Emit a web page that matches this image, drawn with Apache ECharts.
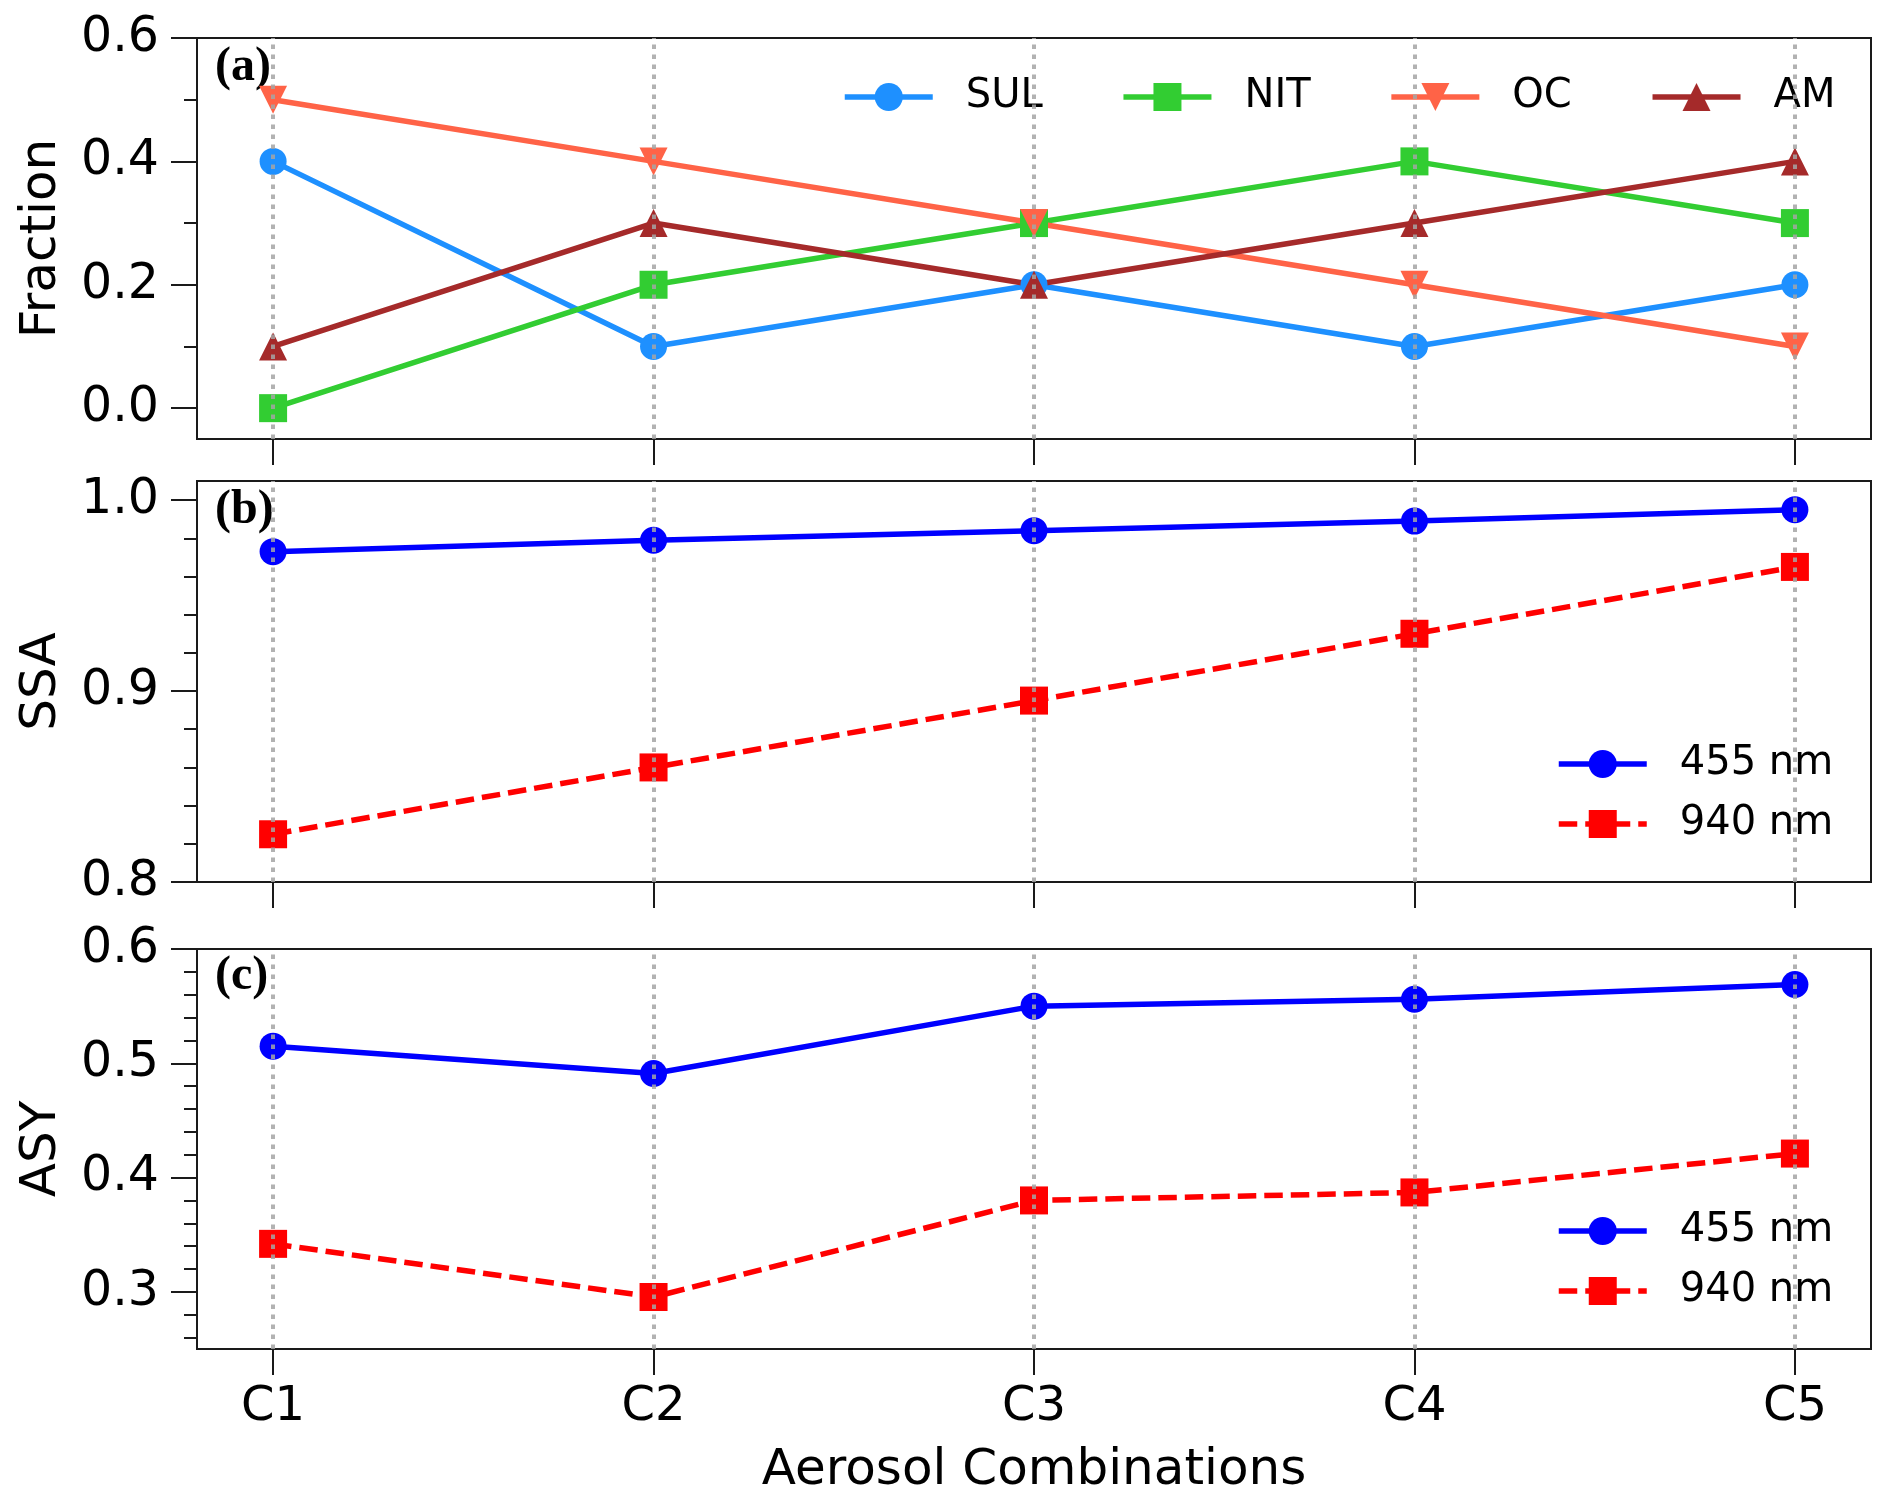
<!DOCTYPE html>
<html>
<head>
<meta charset="utf-8">
<script src="https://cdn.jsdelivr.net/npm/echarts@6/dist/echarts.min.js"></script>
<style>
html,body{margin:0;padding:0;background:#fff;}
#chart{width:1892px;height:1505px;}
</style>
</head>
<body>
<div id="chart"></div>
<script>
// ---- data ----
const categories = ['C1', 'C2', 'C3', 'C4', 'C5'];
const xIdx = [0, 1, 2, 3, 4];

const fracSUL = [0.4, 0.1, 0.2, 0.1, 0.2];
const fracNIT = [0.0, 0.2, 0.3, 0.4, 0.3];
const fracOC  = [0.5, 0.4, 0.3, 0.2, 0.1];
const fracAM  = [0.1, 0.3, 0.2, 0.3, 0.4];

const ssa455 = [0.973, 0.979, 0.984, 0.989, 0.995];
const ssa940 = [0.825, 0.860, 0.895, 0.930, 0.965];

const asy455 = [0.515, 0.491, 0.550, 0.556, 0.569];
const asy940 = [0.342, 0.2955, 0.380, 0.387, 0.421];

const fracTicks = [0.0, 0.2, 0.4, 0.6];
const fracMinor = [0.1, 0.3, 0.5];
const ssaTicks = [0.8, 0.9, 1.0];
const ssaMinor = [0.82, 0.84, 0.86, 0.88, 0.92, 0.94, 0.96, 0.98];
const asyTicks = [0.3, 0.4, 0.5, 0.6];
const asyMinor = [0.26, 0.28, 0.32, 0.34, 0.36, 0.38, 0.42, 0.44, 0.46, 0.48, 0.52, 0.54, 0.56, 0.58];

// ---- helpers ----
const FONT = 'DejaVu Sans';
const LW = 5.5;
const pair = vals => vals.map((v, i) => [xIdx[i], v]);

const grids = [
  {left: 197, top: 38, width: 1674, height: 401},
  {left: 197, top: 481, width: 1674, height: 401},
  {left: 197, top: 949, width: 1674, height: 400}
].map(g => Object.assign(g, {show: true, borderColor: '#1a1a1a', borderWidth: 2, backgroundColor: 'transparent'}));

function xAxisFor(i) {
  return {
    type: 'value', gridIndex: i, min: -0.2, max: 4.2, position: 'bottom',
    axisLine: {show: false, onZero: false},
    splitLine: {show: false},
    axisTick: {show: true, inside: false, customValues: xIdx, length: 26, lineStyle: {color: '#1a1a1a', width: 2}},
    axisLabel: {
      show: i === 2, customValues: xIdx, margin: 35,
      fontFamily: FONT, fontSize: 48, color: '#000',
      formatter: v => categories[Math.round(v)]
    },
    name: i === 2 ? 'Aerosol Combinations' : '',
    nameLocation: 'middle', nameGap: 97,
    nameTextStyle: {fontFamily: FONT, fontSize: 50, color: '#000'}
  };
}

function yMain(i, min, max, ticks, name) {
  return {
    type: 'value', gridIndex: i, min: min, max: max, position: 'left',
    axisLine: {show: false, onZero: false},
    splitLine: {show: false},
    axisTick: {show: true, inside: false, customValues: ticks, length: 26, lineStyle: {color: '#1a1a1a', width: 2}},
    axisLabel: {customValues: ticks, margin: 38, fontFamily: FONT, fontSize: 49, color: '#000',
      formatter: v => v.toFixed(1)},
    name: name, nameLocation: 'middle', nameGap: 130, nameRotate: 90,
    nameTextStyle: {fontFamily: FONT, fontSize: 50, color: '#000'}
  };
}
function yMinor(i, min, max, ticks) {
  return {
    type: 'value', gridIndex: i, min: min, max: max, position: 'left', offset: 0,
    axisLine: {show: false, onZero: false}, splitLine: {show: false},
    axisTick: {show: true, inside: false, customValues: ticks, length: 13, lineStyle: {color: '#1a1a1a', width: 2}},
    axisLabel: {show: false}
  };
}

const gridLines = {
  silent: true, symbol: ['none', 'none'], animation: false,
  label: {show: false},
  lineStyle: {color: 'rgba(165,165,165,0.85)', type: [4.5, 5.5], width: 4},
  emphasis: {disabled: true},
  data: xIdx.map(v => ({xAxis: v}))
};

function lineSeries(name, g, yIdx, vals, color, symbol, size, dashed, withGrid) {
  const s = {
    name: name, type: 'line', xAxisIndex: g, yAxisIndex: yIdx,
    data: pair(vals), symbol: symbol, symbolSize: size, showSymbol: true,
    lineStyle: {color: color, width: LW, type: dashed ? [18.5, 8] : 'solid'},
    itemStyle: {color: color},
    emphasis: {disabled: true}
  };
  if (withGrid) s.markLine = gridLines;
  return s;
}

const TRI_DOWN = 'path://M0,0 L2,0 L1,1.8 Z';
const TRI_UP = 'path://M1,0 L2,1.8 L0,1.8 Z';

const legendText = {fontFamily: FONT, fontSize: 40, color: '#000', padding: [0, 0, 0, 28]};
const legendLine = {width: LW, type: 'inherit'};

const option = {
  animation: false,
  backgroundColor: '#fff',
  grid: grids,
  xAxis: [xAxisFor(0), xAxisFor(1), xAxisFor(2)],
  yAxis: [
    yMain(0, -0.05, 0.6, fracTicks, 'Fraction'), yMinor(0, -0.05, 0.6, fracMinor),
    yMain(1, 0.8, 1.01, ssaTicks, 'SSA'), yMinor(1, 0.8, 1.01, ssaMinor),
    yMain(2, 0.25, 0.6, asyTicks, 'ASY'), yMinor(2, 0.25, 0.6, asyMinor)
  ],
  legend: [
    {data: ['SUL', 'NIT', 'OC', 'AM'], orient: 'horizontal', left: 842, top: 77,
     itemWidth: 88, itemHeight: 35, itemGap: 78, padding: 0, textStyle: legendText, lineStyle: legendLine, selectedMode: false},
    {data: ['455 nm', '940 nm'], orient: 'vertical', left: 1556, top: 744,
     itemWidth: 88, itemHeight: 35, itemGap: 20, padding: 0, textStyle: legendText, lineStyle: legendLine, selectedMode: false},
    {data: ['455 nm ', '940 nm '], orient: 'vertical', left: 1556, top: 1211,
     itemWidth: 88, itemHeight: 35, itemGap: 20, padding: 0, textStyle: legendText, lineStyle: legendLine, selectedMode: false,
     formatter: n => n.trim()}
  ],
  graphic: [
    {type: 'text', left: 215, top: 44, style: {text: '(a)', font: 'bold 48px "Liberation Serif"', fill: '#000'}},
    {type: 'text', left: 215, top: 487, style: {text: '(b)', font: 'bold 48px "Liberation Serif"', fill: '#000'}},
    {type: 'text', left: 215, top: 953, style: {text: '(c)', font: 'bold 48px "Liberation Serif"', fill: '#000'}}
  ],
  series: [
    lineSeries('SUL', 0, 0, fracSUL, '#1E90FF', 'circle', 27, false, true),
    lineSeries('NIT', 0, 0, fracNIT, '#32CD32', 'rect', 28, false, false),
    lineSeries('OC', 0, 0, fracOC, '#FF6347', TRI_DOWN, 28, false, false),
    lineSeries('AM', 0, 0, fracAM, '#A52A2A', TRI_UP, 28, false, false),
    lineSeries('455 nm', 1, 2, ssa455, '#0000FF', 'circle', 27, false, true),
    lineSeries('940 nm', 1, 2, ssa940, '#FF0000', 'rect', 28, true, false),
    lineSeries('455 nm ', 2, 4, asy455, '#0000FF', 'circle', 27, false, true),
    lineSeries('940 nm ', 2, 4, asy940, '#FF0000', 'rect', 28, true, false)
  ]
};

const chart = echarts.init(document.getElementById('chart'), null, {renderer: 'canvas', width: 1892, height: 1505});
chart.setOption(option);
</script>
</body>
</html>
